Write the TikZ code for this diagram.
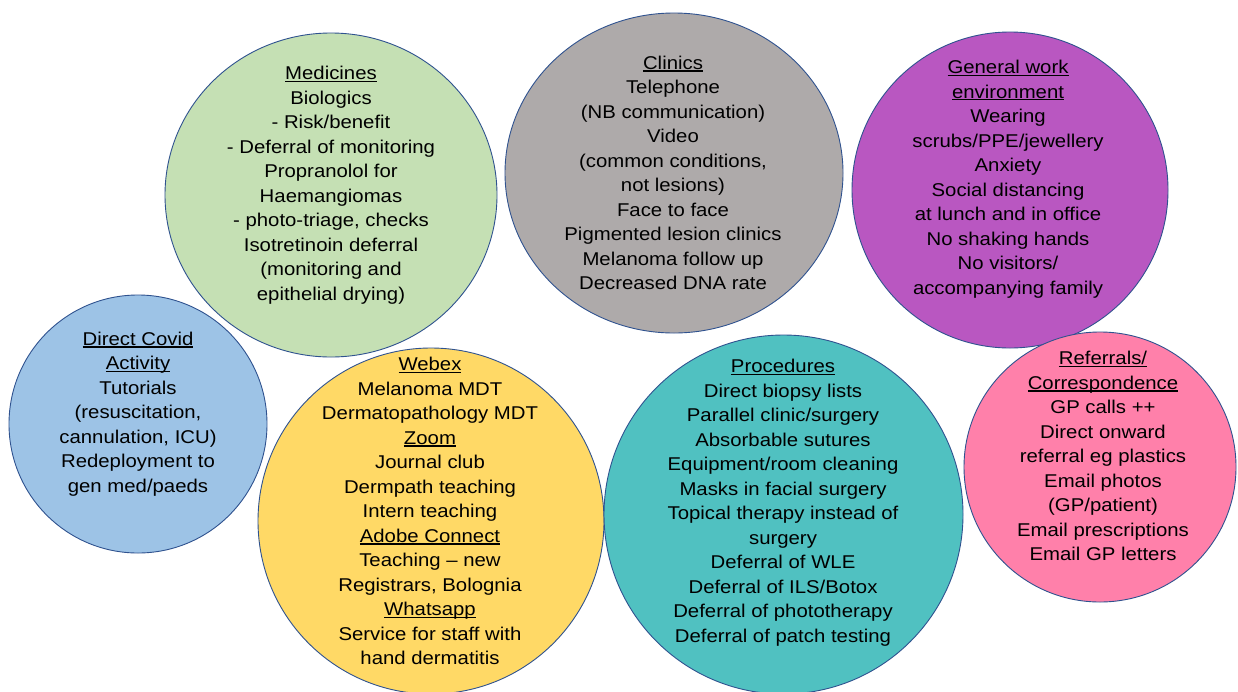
\documentclass[tikz,border=0pt]{standalone}
\usepackage{fontspec}
\setmainfont{Liberation Sans}[FakeStretch=1.1]
\definecolor{cgreen}{HTML}{C5E0B4}
\definecolor{cgray}{HTML}{AEAAAA}
\definecolor{cpurple}{HTML}{B957C1}
\definecolor{cblue}{HTML}{9DC3E6}
\definecolor{cyellow}{HTML}{FFD966}
\definecolor{cteal}{HTML}{50C1C1}
\definecolor{cpink}{HTML}{FF80AA}
\definecolor{cedge}{HTML}{2F528F}
\newcommand\ulx[1]{\setbox0\hbox{#1}\rlap{\rule[-2.4pt]{\wd0}{1.3pt}}\box0}
\begin{document}
\begin{tikzpicture}[x=1pt,y=-1pt,
  bubble/.style={draw=cedge,line width=0.9pt},
  txt/.style={align=center,inner sep=0pt,text=black,font=\fontsize{18.5}{24.5}\selectfont}]
\useasboundingbox (0,0) rectangle (1238,691);
\fill[white] (0,0) rectangle (1238,691);
% bubbles
\draw[bubble,fill=cgreen] (331,195) ellipse [x radius=166pt,y radius=162pt];
\draw[bubble,fill=cgray] (674,173) ellipse [x radius=169pt,y radius=160pt];
\draw[bubble,fill=cpurple] (1010,190) ellipse [x radius=158pt,y radius=158pt];
\draw[bubble,fill=cblue] (138,424) ellipse [x radius=129pt,y radius=129pt];
\draw[bubble,fill=cyellow] (431,521) ellipse [x radius=173pt,y radius=173pt];
\draw[bubble,fill=cteal] (783.5,514.5) ellipse [x radius=179.5pt,y radius=179.5pt];
\draw[bubble,fill=cpink] (1100,467) ellipse [x radius=136pt,y radius=135pt];
% texts
\node[txt] (medicines) at (331,185) {\ulx{Medicines}\\Biologics\\- Risk/benefit\\- Deferral of monitoring\\Propranolol for\\Haemangiomas\\- photo-triage, checks\\Isotretinoin deferral\\(monitoring and\\epithelial drying)};
\node[txt] (clinics) at (673,173) {\ulx{Clinics}\\Telephone\\(NB communication)\\Video\\(common conditions,\\not lesions)\\Face to face\\Pigmented lesion clinics\\Melanoma follow up\\Decreased DNA rate};
\node[txt] (general) at (1008,179) {\ulx{General work}\\\ulx{environment}\\Wearing\\scrubs/PPE/jewellery\\Anxiety\\Social distancing\\at lunch and in office\\No shaking hands\\No visitors/\\accompanying family};
\node[txt] (covid) at (138,414) {\ulx{Direct Covid}\\\ulx{Activity}\\Tutorials\\(resuscitation,\\cannulation, ICU)\\Redeployment to\\gen med/paeds};
\node[txt] (webex) at (430,511) {\ulx{Webex}\\Melanoma MDT\\Dermatopathology MDT\\\ulx{Zoom}\\Journal club\\Dermpath teaching\\Intern teaching\\\ulx{Adobe Connect}\\Teaching -- new\\Registrars, Bolognia\\\ulx{Whatsapp}\\Service for staff with\\hand dermatitis};
\node[txt] (procedures) at (783,502.5) {\ulx{Procedures}\\Direct biopsy lists\\Parallel clinic/surgery\\Absorbable sutures\\Equipment/room cleaning\\Masks in facial surgery\\Topical therapy instead of\\surgery\\Deferral of WLE\\Deferral of ILS/Botox\\Deferral of phototherapy\\Deferral of patch testing};
\node[txt] (referrals) at (1103,456) {\ulx{Referrals/}\\\ulx{Correspondence}\\GP calls ++\\Direct onward\\referral eg plastics\\Email photos\\(GP/patient)\\Email prescriptions\\Email GP letters};
\end{tikzpicture}
\end{document}
